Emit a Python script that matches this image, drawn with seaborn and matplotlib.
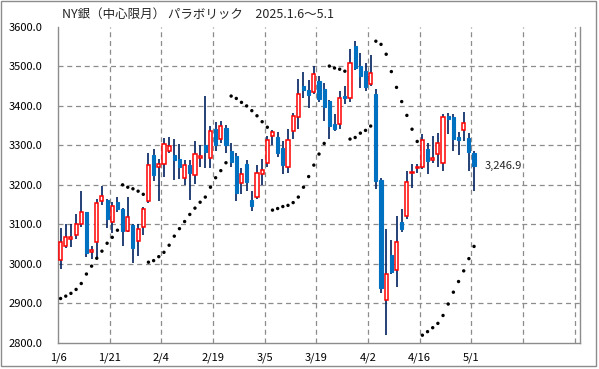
import matplotlib
matplotlib.use("Agg")
import matplotlib.pyplot as plt
from matplotlib.patches import Rectangle
import seaborn as sns
import pandas as pd
import numpy as np

# ---- data ----
opens = [3010, 3046, 3064, 3073, 3102, 3130, 3029, 3054, 3158, 3162,
         3107, 3157, 3139, 3082, 3098, 3058, 3092, 3158, 3276, 3245,
         3252, 3287, 3275, 3266, 3217, 3250, 3224, 3269, 3300, 3267,
         3341, 3316, 3343, 3286, 3273, 3204, 3253, 3162, 3170, 3227,
         3255, 3324, 3320, 3294, 3245, 3337, 3371, 3451, 3441, 3436,
         3463, 3443, 3413, 3354, 3354, 3425, 3420, 3552, 3502, 3489,
         3455, 3431, 3213, 2908, 3022, 2983, 3105, 3120, 3229, 3242,
         3246, 3291, 3262, 3278, 3255, 3375, 3371, 3321, 3338, 3318,
         3280]
highs = [3090, 3102, 3102, 3125, 3184, 3132, 3046, 3163, 3198, 3165,
         3156, 3168, 3142, 3168, 3100, 3102, 3145, 3280, 3290, 3265,
         3318, 3320, 3316, 3304, 3263, 3263, 3312, 3300, 3426, 3350,
         3360, 3363, 3352, 3305, 3280, 3242, 3263, 3185, 3251, 3265,
         3324, 3339, 3335, 3310, 3342, 3382, 3468, 3487, 3466, 3500,
         3475, 3457, 3415, 3379, 3438, 3451, 3545, 3565, 3534, 3510,
         3528, 3442, 3217, 3087, 3060, 3121, 3139, 3235, 3252, 3252,
         3328, 3305, 3324, 3331, 3379, 3382, 3380, 3335, 3384, 3332,
         3286]
lows = [2986, 3039, 3043, 3064, 3092, 3018, 3011, 3015, 3150, 3090,
        3077, 3130, 3045, 3080, 3003, 3020, 3073, 3155, 3210, 3159,
        3221, 3280, 3212, 3214, 3200, 3162, 3202, 3244, 3242, 3242,
        3287, 3307, 3280, 3245, 3158, 3177, 3185, 3135, 3165, 3200,
        3245, 3300, 3270, 3228, 3230, 3316, 3342, 3420, 3394, 3430,
        3409, 3362, 3316, 3337, 3341, 3405, 3411, 3490, 3445, 3438,
        3451, 3190, 2927, 2819, 2975, 2940, 3080, 3113, 3193, 3229,
        3240, 3228, 3256, 3245, 3234, 3329, 3287, 3276, 3310, 3236,
        3185]
closes = [3056, 3067, 3067, 3100, 3130, 3028, 3034, 3153, 3171, 3113,
          3147, 3139, 3082, 3118, 3041, 3088, 3138, 3250, 3225, 3252,
          3303, 3298, 3262, 3245, 3250, 3231, 3278, 3272, 3284, 3336,
          3300, 3349, 3300, 3259, 3180, 3227, 3208, 3147, 3229, 3238,
          3314, 3334, 3280, 3251, 3314, 3375, 3430, 3441, 3428, 3480,
          3418, 3398, 3348, 3342, 3420, 3421, 3508, 3497, 3477, 3447,
          3483, 3211, 2938, 2973, 2980, 3055, 3088, 3206, 3232, 3245,
          3314, 3261, 3268, 3305, 3371, 3366, 3316, 3314, 3356, 3282,
          3246.9]
sar = [2912, 2918, 2925, 2935, 2950, 2974, 2994, 3014, 3032, 3052,
       3067, 3085, 3200, 3194, 3190, 3184, 3176, 3004, 3008, 3018,
       3029, 3047, 3070, 3089, 3107, 3125, 3141, 3156, 3169, 3194,
       3218, 3236, 3256, 3425, 3419, 3409, 3400, 3388, 3375, 3360,
       3346, 3136, 3140, 3145, 3148, 3155, 3169, 3194, 3221, 3250,
       3278, 3305, 3501, 3496, 3493, 3488, 3316, 3320, 3331, 3338,
       3349, 3564, 3556, 3531, 3487, 3447, 3411, 3376, 3341, 3310,
       2819, 2828, 2838, 2849, 2869, 2898, 2928, 2955, 2982, 3013,
       3044]
tick_labels = ["1/6", "1/21", "2/4", "2/19", "3/5", "3/19", "4/2", "4/16", "5/1", "", ""]
y_ticks = [2800, 2900, 3000, 3100, 3200, 3300, 3400, 3500, 3600]
title = "NY銀（中心限月） パラボリック　2025.1.6～5.1"
last_label = "3,246.9"

df = pd.DataFrame({"o": opens, "h": highs, "l": lows, "c": closes, "sar": sar})
df["x"] = np.arange(len(df))

sns.set_style("white")
plt.rcParams["font.family"] = ["Noto Sans CJK JP", "DejaVu Sans"]

W, H = 599, 369
fig = plt.figure(figsize=(W / 100, H / 100), dpi=100)
left, right, top, bottom = 58, 580, 27, 342.7
ax = fig.add_axes([left / W, 1 - bottom / H, (right - left) / W, (bottom - top) / H])

# grid
grid_kw = dict(color="#8c8c8c", lw=0.9, ls=(0, (4, 3)), zorder=0)
for v in y_ticks[1:-1]:
    ax.axhline(v, **grid_kw)
for k in range(1, 11):
    ax.axvline(k * 10 - 0.5, **grid_kw)

# wicks
ax.vlines(df["x"], df["l"], df["h"], color="#002060", lw=1.2, zorder=2)

# bodies
up = df["c"] >= df["o"]
bw = 0.6
bot = np.minimum(df["o"], df["c"])
hgt = np.maximum(np.abs(df["c"] - df["o"]), 2.0)
ax.bar(df["x"][up], hgt[up], bottom=bot[up], width=bw, facecolor="white",
       edgecolor="#ff0000", linewidth=1.1, zorder=3)
ax.bar(df["x"][~up], hgt[~up], bottom=bot[~up], width=bw, facecolor="#0070c0",
       edgecolor="#0070c0", linewidth=0.8, zorder=3)

# parabolic SAR
sns.scatterplot(data=df, x="x", y="sar", ax=ax, color="black", s=6,
                marker="o", edgecolor="none", zorder=4, legend=False)

ax.set_xlim(-0.5, 100.5)
ax.set_ylim(2800, 3600)
ax.set_xticks([k * 10 - 0.5 for k in range(11)])
ax.set_xticklabels(tick_labels)
ax.set_yticks(y_ticks)
ax.set_yticklabels([f"{v:.1f}" for v in y_ticks])
ax.set_xlabel("")
ax.set_ylabel("")
ax.tick_params(axis="both", direction="out", length=4, width=0.9, color="#8c8c8c",
               labelsize=8, labelcolor="#000000")
ax.tick_params(axis="y", pad=7)
ax.tick_params(axis="x", pad=3)
for s in ["left", "right", "bottom"]:
    ax.spines[s].set_color("#8c8c8c")
    ax.spines[s].set_linewidth(1.0)
ax.spines["top"].set_visible(False)

ax.text(82.0, closes[-1], last_label, fontsize=8, ha="left", va="center", clip_on=False)

fig.text(62 / W, 1 - 14 / H, title, fontsize=9, ha="left", va="center")

# outer frame
fig.patches.append(Rectangle((0.5 / W, 3 / H), 595 / W, 365.5 / H, transform=fig.transFigure,
                             fill=False, edgecolor="#8c8c8c", lw=1.0))

fig.savefig("out.png", dpi=100)
